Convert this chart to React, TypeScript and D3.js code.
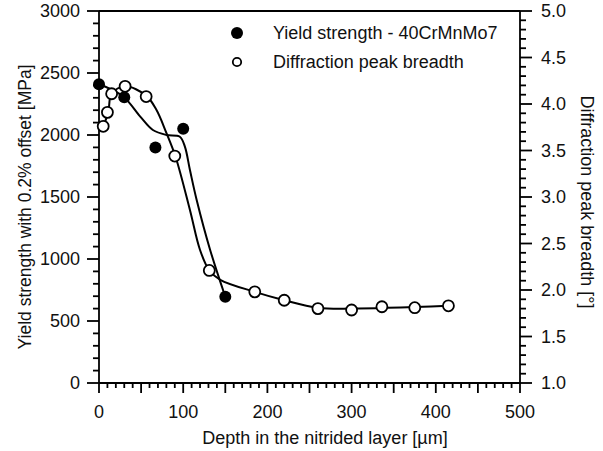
import React from 'react';
import * as d3 from 'd3';

// measured points
const yieldDepth = [0, 30, 67, 100, 150];
const yieldMPa = [2410, 2305, 1900, 2050, 696];

const peakDepth = [5, 10, 15, 31, 56, 90, 131, 185, 220, 260, 300, 336, 375, 415];
const peakDeg = [3.76, 3.91, 4.11, 4.19, 4.08, 3.44, 2.21, 1.98, 1.89, 1.8, 1.785, 1.82, 1.81, 1.83];

// fitted curves
const yieldFitDepth = [0, 29, 49, 64, 80, 96, 102, 108, 116, 132, 150];
const yieldFitMPa = [2411, 2309, 2148, 2040, 2000, 1986, 1906, 1718, 1476, 1073, 696];

const peakFitDepth = [5, 11, 15, 31, 56, 68, 80, 91, 108, 120, 131, 144, 185, 220, 260, 300, 415];
const peakFitDeg = [3.76, 3.91, 4.11, 4.19, 4.09, 3.94, 3.69, 3.43, 2.86, 2.43, 2.21, 2.11, 1.98, 1.89, 1.81, 1.8, 1.83];

const xTickLabels = [0, 100, 200, 300, 400, 500];
const leftTickLabels = [0, 500, 1000, 1500, 2000, 2500, 3000];
const rightTickLabels = [1.0, 1.5, 2.0, 2.5, 3.0, 3.5, 4.0, 4.5, 5.0];

const W = 603;
const H = 451;
const m = { left: 99, right: 520, top: 11, bottom: 383 };
const font = '"Liberation Sans", Arial, sans-serif';
const fs = 18;

export default function App() {
  const x = d3.scaleLinear().domain([0, 500]).range([m.left, m.right]);
  const yL = d3.scaleLinear().domain([0, 3000]).range([m.bottom, m.top]);
  const yR = d3.scaleLinear().domain([1, 5]).range([m.bottom, m.top]);

  const yieldLine = d3.line<number>()
    .x((d) => x(d))
    .y((_, i) => yL(yieldFitMPa[i]))
    .curve(d3.curveCatmullRom.alpha(0.5));
  const peakLine = d3.line<number>()
    .x((d) => x(d))
    .y((_, i) => yR(peakFitDeg[i]))
    .curve(d3.curveCatmullRom.alpha(0.5));

  const xMinor = d3.range(0, 501, 10);
  const lMinor = d3.range(0, 3001, 100);
  const rMinor = d3.range(10, 51, 1).map((v) => v / 10);

  const sw = 1.8;

  return (
    <svg width={W} height={H} style={{ position: 'absolute', left: 0, top: 0, background: '#fff' }}
      fontFamily={font}>
      {/* frame */}
      <line x1={m.left} x2={m.right} y1={m.top} y2={m.top} stroke="#000" strokeWidth={sw} />
      <line x1={m.left} x2={m.right} y1={m.bottom} y2={m.bottom} stroke="#000" strokeWidth={sw} />
      <line x1={m.left} x2={m.left} y1={m.top} y2={m.bottom} stroke="#000" strokeWidth={sw} />
      <line x1={m.right} x2={m.right} y1={m.top} y2={m.bottom} stroke="#000" strokeWidth={sw} />

      {/* bottom ticks */}
      {xMinor.map((v) => (
        <line key={'xm' + v} x1={x(v)} x2={x(v)} y1={m.bottom} y2={m.bottom + (v % 50 === 0 ? 10 : 5)}
          stroke="#000" strokeWidth={sw} />
      ))}
      {xTickLabels.map((v) => (
        <text key={'xl' + v} x={x(v)} y={m.bottom + 35} textAnchor="middle" fontSize={fs} fill="#111">{v}</text>
      ))}

      {/* left ticks */}
      {lMinor.map((v) => (
        <line key={'lm' + v} x1={m.left - (v % 500 === 0 ? 12 : 6)} x2={m.left} y1={yL(v)} y2={yL(v)}
          stroke="#000" strokeWidth={sw} />
      ))}
      {leftTickLabels.map((v) => (
        <text key={'ll' + v} x={m.left - 19} y={yL(v)} dy="0.36em" textAnchor="end" fontSize={fs} fill="#111">{v}</text>
      ))}

      {/* right ticks */}
      {rMinor.map((v, i) => (
        <line key={'rm' + i} x1={m.right} x2={m.right + (i % 5 === 0 ? 12 : 6)} y1={yR(v)} y2={yR(v)}
          stroke="#000" strokeWidth={sw} />
      ))}
      {rightTickLabels.map((v) => (
        <text key={'rl' + v} x={m.right + 21} y={yR(v)} dy="0.36em" textAnchor="start" fontSize={fs} fill="#111">{v.toFixed(1)}</text>
      ))}

      {/* axis titles */}
      <text x={325} y={444} textAnchor="middle" fontSize={fs} fill="#111">
        Depth in the nitrided layer [µm]
      </text>
      <text transform={`translate(25,207) rotate(-90)`} textAnchor="middle" dy="0.36em" fontSize={17.5} fill="#111">
        Yield strength with 0.2% offset [MPa]
      </text>
      <text transform={`translate(587,202) rotate(90)`} textAnchor="middle" dy="0.36em" fontSize={fs} fill="#111">
        Diffraction peak breadth [°]
      </text>

      {/* curves */}
      <path d={yieldLine(yieldFitDepth) || ''} fill="none" stroke="#000" strokeWidth={2} />
      <path d={peakLine(peakFitDepth) || ''} fill="none" stroke="#000" strokeWidth={2} />

      {/* points */}
      {yieldDepth.map((d, i) => (
        <circle key={'y' + i} cx={x(d)} cy={yL(yieldMPa[i])} r={6} fill="#000" />
      ))}
      {peakDepth.map((d, i) => (
        <circle key={'p' + i} cx={x(d)} cy={yR(peakDeg[i])} r={5.5} fill="#fff" stroke="#000" strokeWidth={1.8} />
      ))}

      {/* legend */}
      <circle cx={237} cy={33} r={6} fill="#000" />
      <text x={273} y={33} dy="0.36em" fontSize={fs} fill="#111">Yield strength - 40CrMnMo7</text>
      <circle cx={237} cy={62} r={4.2} fill="#fff" stroke="#000" strokeWidth={1.8} />
      <text x={273} y={62} dy="0.36em" fontSize={fs} fill="#111">Diffraction peak breadth</text>
    </svg>
  );
}
